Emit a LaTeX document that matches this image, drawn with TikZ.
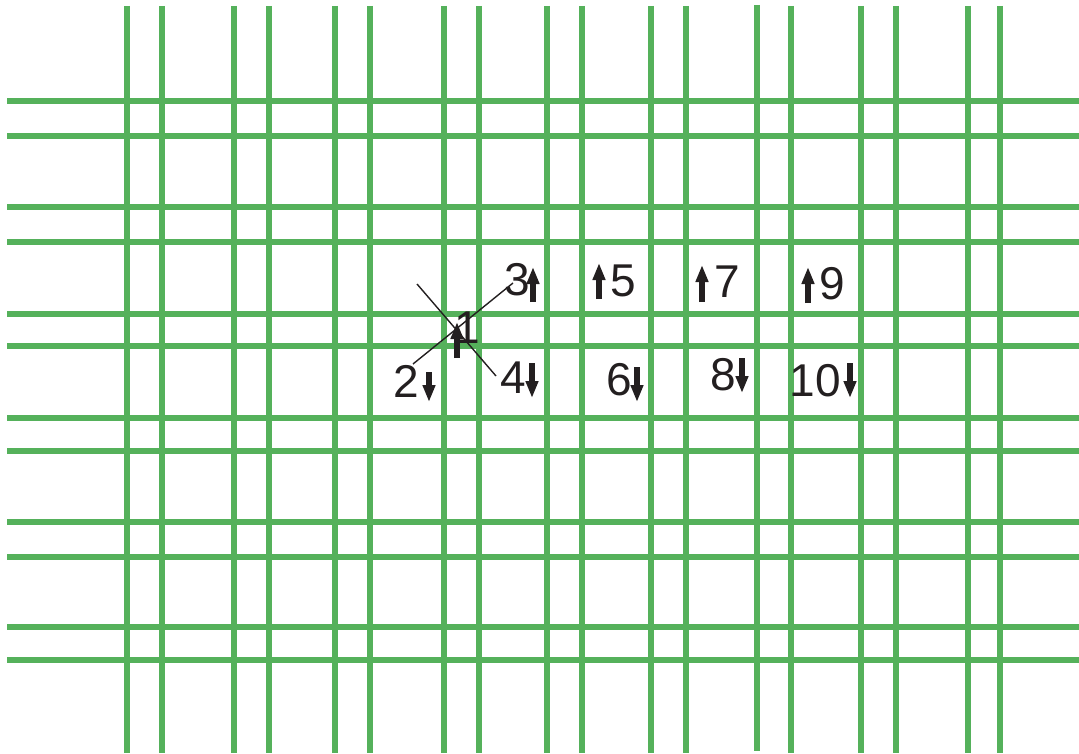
\documentclass[tikz,border=0pt]{standalone}
\usepackage{fontspec}
\setmainfont{Liberation Sans}
\usepackage{xcolor}
\usetikzlibrary{arrows.meta}
\definecolor{wire}{RGB}{85,177,91}
\definecolor{ink}{RGB}{35,31,32}
\tikzset{
  gridline/.style={draw=wire, line width=6pt},
  num/.style={inner sep=0pt, text=ink, font=\fontsize{46}{54}\selectfont},
  spin/.style={draw=ink, line width=6pt, -{Triangle[length=17pt,width=12pt]}},
  pointer/.style={draw=ink, line width=1.4pt}
}
\begin{document}
\begin{tikzpicture}[x=1pt, y=-1pt]
  \useasboundingbox (0,0) rectangle (1079,754);
  % grid
  \foreach \yy in {101,136,207,242,314,346,418,451,522,557,627,660}
    \draw[gridline] (7,\yy) -- (1079,\yy);
  \foreach \xx in {127,162,234,269,335,370,444,479,547,582,651,686,791,861,896,968,1000}
    \draw[gridline] (\xx,6) -- (\xx,753);
  \draw[gridline] (757,5) -- (757,751);
  % labels
  \node[num] (n1) at (467,328) {1};
  \node[num] (n2) at (406,381) {2};
  \node[num] (n3) at (517,280) {3};
  \node[num] (n4) at (513,378) {4};
  \node[num] (n5) at (623,281) {5};
  \node[num] (n6) at (619,380) {6};
  \node[num] (n7) at (727,282) {7};
  \node[num] (n8) at (723,375) {8};
  \node[num] (n9) at (832,284) {9};
  \node[num] (n10) at (815,381) {10};
  % spins
  \foreach \xx/\ya/\yb in {457/358/322, 533/302/267, 599/299/263, 702/302/265, 808/303/267,
                           429/372/402, 532/363/398, 637/367/402, 742/358/393, 850/363/398}
    \draw[spin] (\xx,\ya) -- (\xx,\yb);
  % crossing lines
  \coordinate (a1) at (417,284);
  \coordinate (a2) at (496,376);
  \coordinate (b1) at (413,364);
  \coordinate (b2) at (513,283);
  \draw[pointer] (a1) -- (a2);
  \draw[pointer] (b1) -- (b2);
\end{tikzpicture}
\end{document}
